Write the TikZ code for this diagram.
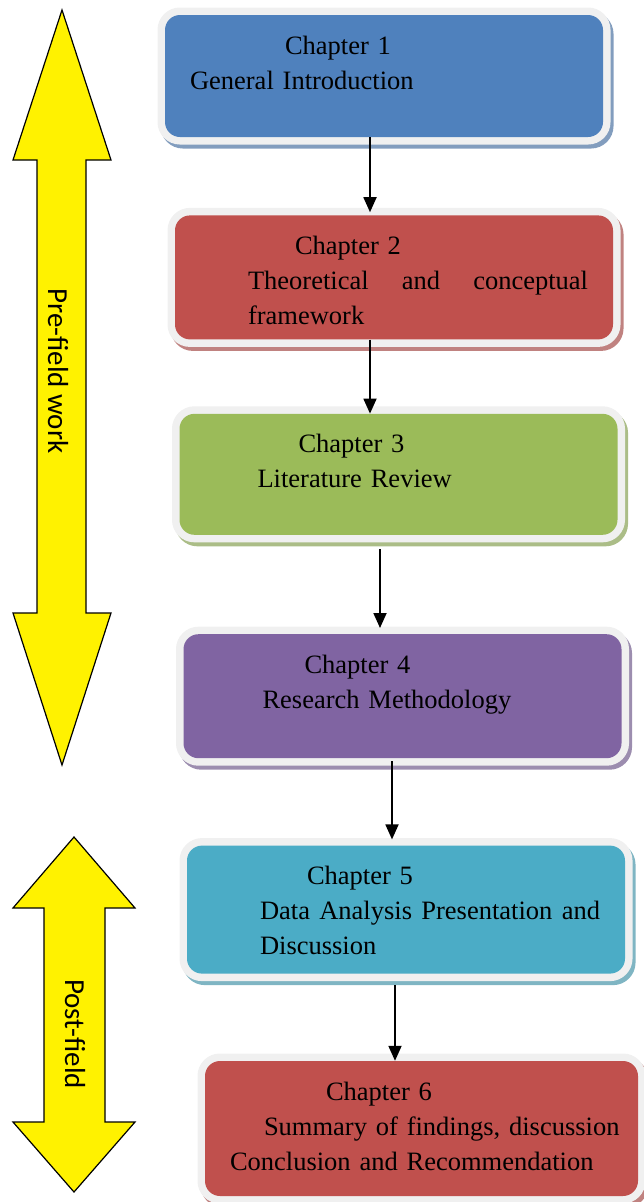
\documentclass[tikz,border=0pt]{standalone}
\usepackage{fontspec}
\setmainfont{Liberation Serif}
\newfontfamily\phasefont{Carlito}
\usetikzlibrary{positioning,arrows.meta}

\definecolor{chblue}{RGB}{79,129,189}
\definecolor{chred}{RGB}{192,80,77}
\definecolor{chgreen}{RGB}{155,187,89}
\definecolor{chpurple}{RGB}{128,100,162}
\definecolor{chaqua}{RGB}{75,172,198}
\definecolor{framegray}{RGB}{240,240,240}

\begin{document}
\begin{tikzpicture}[x=1pt, y=-1pt,
    chapter box/.style={rectangle, rounded corners=15pt, fill=#1,
        text width=388pt, inner xsep=25pt, inner ysep=0pt, align=left,
        text height=39pt, font=\fontsize{26.5}{35}\selectfont,
        preaction={draw=#1!55!lightgray, line width=15pt, transform canvas={shift={(3pt,-4pt)}}},
        preaction={draw=framegray, line width=15pt}},
    flow arrow/.style={-{Triangle[length=15pt, width=13pt]}, line width=1.8pt},
    phase arrow/.style={draw=black, fill=yellow, line width=1.2pt},
    phase label/.style={rotate=-90, font=\phasefont\fontsize{29}{34}\selectfont}]

    \useasboundingbox (0,0) rectangle (644,1202);

    % phases
    \draw [phase arrow] (62,10) -- (111,160) -- (86,160) -- (86,613) -- (111,613) -- (62,765)
        -- (13,613) -- (37,613) -- (37,160) -- (13,160) -- cycle;
    \node [phase label] (prefield) at (58,371) {Pre-field work};

    \draw [phase arrow] (74,837) -- (135,908) -- (105,908) -- (105,1122) -- (135,1122) -- (74,1192)
        -- (13,1122) -- (44,1122) -- (44,908) -- (13,908) -- cycle;
    \node [phase label] (postfield) at (75,1034) {Post-field};

    % chapters
    \node [chapter box=chblue, text depth=83pt] (ch1) at (384,76)
        {\hspace*{95pt}Chapter 1\\General Introduction};
    \node [chapter box=chred, text depth=85pt, below=78pt of ch1, xshift=10pt] (ch2)
        {\hspace*{95pt}Chapter 2\\\hspace*{48pt}Theoretical\hfill and\hfill conceptual\\\hspace*{48pt}framework};
    \node [chapter box=chgreen, text depth=82pt, below=74pt of ch2, xshift=4.5pt] (ch3)
        {\hspace*{94pt}Chapter 3\\\hspace*{53pt}Literature Review};
    \node [chapter box=chpurple, text depth=85pt, below=99pt of ch3, xshift=4pt] (ch4)
        {\hspace*{96pt}Chapter 4\\\hspace*{54pt}Research Methodology};
    \node [chapter box=chaqua, text depth=89pt, below=87pt of ch4, xshift=3.5pt] (ch5)
        {\hspace*{95pt}Chapter 5\\\hspace*{48pt}Data\hfill Analysis\hfill Presentation\hfill and\\\hspace*{48pt}Discussion};
    \node [chapter box=chred, text width=383pt, text depth=96pt, below=87pt of ch5, xshift=15.5pt] (ch6)
        {\hspace*{96pt}Chapter 6\\\hspace*{34pt}\mbox{Summary of findings, discussion}\\\mbox{Conclusion and Recommendation}};

    \draw [flow arrow] ([xshift=-14pt]ch1.south) -- ([xshift=-24pt, yshift=3pt]ch2.north);
    \draw [flow arrow] ([xshift=-24pt]ch2.south) -- ([xshift=-28.5pt]ch3.north);
    \draw [flow arrow] ([xshift=-18.5pt, yshift=-14pt]ch3.south) -- ([xshift=-22.5pt, yshift=6pt]ch4.north);
    \draw [flow arrow] ([xshift=-10.5pt, yshift=-3pt]ch4.south) -- ([xshift=-14pt, yshift=6pt]ch5.north);
    \draw [flow arrow] ([xshift=-11pt, yshift=-11pt]ch5.south) -- ([xshift=-26.5pt]ch6.north);

\end{tikzpicture}
\end{document}
